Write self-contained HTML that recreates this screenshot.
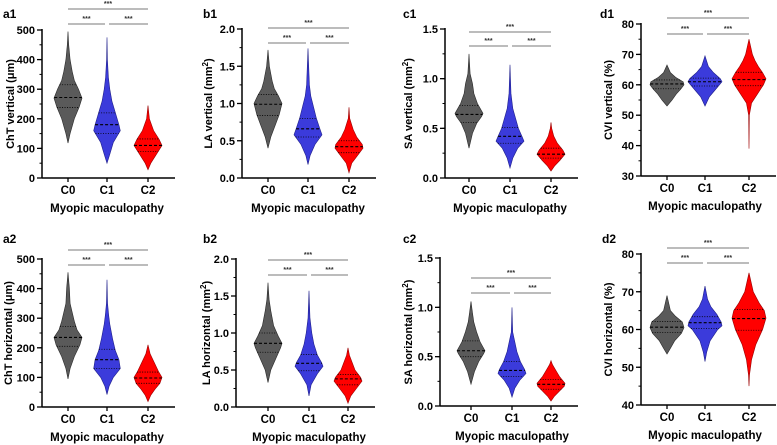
<!DOCTYPE html>
<html><head><meta charset="utf-8"><style>
html,body{margin:0;padding:0;background:#fff;}
svg{display:block;font-family:"Liberation Sans",Arial,sans-serif;font-weight:bold;}
</style></head><body>
<svg id="fig" width="777" height="445" viewBox="0 0 777 445" xmlns="http://www.w3.org/2000/svg"></svg>
<script>
const categories = ["C0","C1","C2"];
// ChT vertical
const a1_C0_v=[118,150,200,240,270,300,330,360,400,450,495], a1_C0_w=[0,.15,.45,.8,1,.75,.45,.3,.15,.05,0], a1_C0_q=[238,272,315];
const a1_C1_v=[50,80,120,160,180,220,260,300,340,400,475], a1_C1_w=[0,.2,.45,.95,.85,.6,.35,.2,.1,.03,0], a1_C1_q=[150,180,220];
const a1_C2_v=[28,50,80,110,130,160,200,245], a1_C2_w=[0,.2,.6,1,.8,.4,.1,0], a1_C2_q=[90,110,132];
// ChT horizontal
const a2_C0_v=[95,130,170,210,235,260,290,320,350,400,455], a2_C0_w=[0,.15,.45,.85,1,.65,.45,.3,.15,.1,0], a2_C0_q=[205,235,272];
const a2_C1_v=[42,70,100,130,160,190,230,280,310,350,430], a2_C1_w=[0,.15,.45,.95,.85,.6,.4,.2,.12,.04,0], a2_C1_q=[130,160,195];
const a2_C2_v=[18,40,60,80,100,120,150,180,210], a2_C2_w=[0,.2,.5,.85,1,.75,.45,.15,0], a2_C2_q=[80,98,118];
// LA vertical
const b1_C0_v=[.4,.55,.7,.85,1.0,1.1,1.2,1.3,1.5,1.72], b1_C0_w=[0,.2,.5,.8,1,.75,.45,.3,.1,0], b1_C0_q=[.84,.99,1.12];
const b1_C1_v=[.18,.3,.45,.58,.66,.8,.95,1.1,1.25,1.74], b1_C1_w=[0,.15,.5,1,.85,.6,.4,.2,.1,0], b1_C1_q=[.55,.66,.8];
const b1_C2_v=[.07,.2,.3,.4,.45,.55,.65,.8,.95], b1_C2_w=[0,.2,.6,1,.95,.55,.3,.05,0], b1_C2_q=[.34,.42,.5];
// LA horizontal
const b2_C0_v=[.33,.5,.65,.8,.86,.95,1.1,1.3,1.45,1.68], b2_C0_w=[0,.2,.55,.9,1,.75,.4,.2,.08,0], b2_C0_q=[.74,.86,1.0];
const b2_C1_v=[.15,.3,.45,.55,.6,.7,.85,1.0,1.2,1.57], b2_C1_w=[0,.15,.6,1,.9,.6,.35,.2,.07,0], b2_C1_q=[.49,.59,.71];
const b2_C2_v=[.05,.15,.25,.35,.4,.5,.6,.7,.8], b2_C2_w=[0,.2,.6,1,.9,.5,.3,.1,0], b2_C2_q=[.3,.38,.44];
// SA vertical
const c1_C0_v=[.3,.45,.55,.62,.65,.75,.85,.95,1.05,1.25], c1_C0_w=[0,.25,.55,.9,1,.6,.35,.25,.08,0], c1_C0_q=[.56,.64,.73];
const c1_C1_v=[.1,.2,.3,.37,.42,.5,.6,.7,.85,1.14], c1_C1_w=[0,.2,.55,1,.85,.6,.4,.2,.07,0], c1_C1_q=[.35,.42,.51];
const c1_C2_v=[.07,.12,.18,.24,.28,.35,.42,.5,.56], c1_C2_w=[0,.25,.65,1,.85,.45,.2,.05,0], c1_C2_q=[.2,.24,.3];
// SA horizontal
const c2_C0_v=[.22,.35,.45,.53,.56,.65,.75,.85,.95,1.06], c2_C0_w=[0,.25,.55,.9,1,.65,.4,.2,.1,0], c2_C0_q=[.5,.56,.66];
const c2_C1_v=[.09,.18,.26,.33,.37,.45,.55,.65,.75,1.0], c2_C1_w=[0,.2,.55,1,.9,.6,.35,.2,.05,0], c2_C1_q=[.3,.36,.45];
const c2_C2_v=[.05,.1,.15,.2,.23,.3,.36,.42,.46], c2_C2_w=[0,.25,.6,.95,1,.6,.35,.1,0], c2_C2_q=[.17,.22,.27];
// CVI vertical
const d1_C0_v=[53,55,57,58.5,60,61,62.5,64,66.5], d1_C0_w=[0,.3,.55,.8,1,.95,.5,.2,0], d1_C0_q=[58.7,60.3,61.6];
const d1_C1_v=[53,56,58,60,61,62,64,66,69.5], d1_C1_w=[0,.25,.55,.85,1,.9,.5,.2,0], d1_C1_q=[59.6,61,62.2];
const d1_C2_v=[39,50,54,57,60,62,64,66,68,70,75], d1_C2_w=[0,.02,.15,.5,.85,1,.8,.55,.35,.2,0], d1_C2_q=[59.7,61.7,64.1];
// CVI horizontal
const d2_C0_v=[53.5,55,57,59,60.5,62,63.5,65,69], d2_C0_w=[0,.2,.45,.85,1,.9,.5,.2,0], d2_C0_q=[59.2,60.6,62.1];
const d2_C1_v=[51.5,54,57,60,61,62,64,66,68,71.5], d2_C1_w=[0,.1,.3,.75,1,.95,.7,.35,.15,0], d2_C1_q=[60.3,61.8,63.4];
const d2_C2_v=[45,48,52,56,60,63,65,67,70,75], d2_C2_w=[0,.03,.15,.4,.8,1,.9,.6,.25,0], d2_C2_q=[59.8,62.9,65.3];

const yTicksA=[0,100,200,300,400,500], yTicksB=[0,0.5,1.0,1.5,2.0], yTicksC=[0,0.5,1.0,1.5], yTicksD1=[30,40,50,60,70,80], yTicksD2=[40,50,60,70,80];
const sigLabel="***";

const NS="http://www.w3.org/2000/svg";
const svg=document.getElementById('fig');
function mk(tag,attrs,parent){const e=document.createElementNS(NS,tag);for(const k in attrs)e.setAttribute(k,attrs[k]);(parent||svg).appendChild(e);return e;}

const fills=["#5a5a5a","#3b3bdb","#ff0000"], strokes=["#2a2a2a","#20208a","#9a0000"];
const panels=[
 {id:"a1",ax:42,top:30,bot:178,cats:[68,107,148],min:0,max:500,ticks:yTicksA,minor:50,dec:0,bars:[9,24],ytx:10,lx:3,ly:18,hw:14,title:["ChT vertical (μm)",""],data:[[a1_C0_v,a1_C0_w,a1_C0_q],[a1_C1_v,a1_C1_w,a1_C1_q],[a1_C2_v,a1_C2_w,a1_C2_q]]},
 {id:"b1",ax:242,top:29,bot:178,cats:[268,308,349],min:0,max:2,ticks:yTicksB,minor:.25,dec:1,bars:[28,43],ytx:208,lx:203,ly:18,hw:14,title:["LA vertical (mm","2",")"],data:[[b1_C0_v,b1_C0_w,b1_C0_q],[b1_C1_v,b1_C1_w,b1_C1_q],[b1_C2_v,b1_C2_w,b1_C2_q]]},
 {id:"c1",ax:445,top:29,bot:178,cats:[469,510,551],min:0,max:1.5,ticks:yTicksC,minor:.25,dec:1,bars:[32,46],ytx:408,lx:403,ly:18,hw:14,title:["SA vertical (mm","2",")"],data:[[c1_C0_v,c1_C0_w,c1_C0_q],[c1_C1_v,c1_C1_w,c1_C1_q],[c1_C2_v,c1_C2_w,c1_C2_q]]},
 {id:"d1",ax:641,top:24,bot:176,cats:[667,705,749],min:30,max:80,ticks:yTicksD1,minor:5,dec:0,bars:[18,34],ytx:608,lx:600,ly:18,hw:17,title:["CVI vertical (%)",""],data:[[d1_C0_v,d1_C0_w,d1_C0_q],[d1_C1_v,d1_C1_w,d1_C1_q],[d1_C2_v,d1_C2_w,d1_C2_q]]},
 {id:"a2",ax:42,top:259,bot:407,cats:[68,107,148],min:0,max:500,ticks:yTicksA,minor:50,dec:0,bars:[250,265],ytx:8,lx:3,ly:243,hw:14,title:["ChT horizontal (μm)",""],data:[[a2_C0_v,a2_C0_w,a2_C0_q],[a2_C1_v,a2_C1_w,a2_C1_q],[a2_C2_v,a2_C2_w,a2_C2_q]]},
 {id:"b2",ax:236,top:259,bot:407,cats:[268,309,348],min:0,max:2,ticks:yTicksB,minor:.25,dec:1,bars:[260,275],ytx:206,lx:203,ly:243,hw:14,title:["LA horizontal (mm","2",")"],data:[[b2_C0_v,b2_C0_w,b2_C0_q],[b2_C1_v,b2_C1_w,b2_C1_q],[b2_C2_v,b2_C2_w,b2_C2_q]]},
 {id:"c2",ax:440,top:258,bot:406,cats:[471,512,551],min:0,max:1.5,ticks:yTicksC,minor:.25,dec:1,bars:[278,293],ytx:408,lx:403,ly:243,hw:14,title:["SA horizontal (mm","2",")"],data:[[c2_C0_v,c2_C0_w,c2_C0_q],[c2_C1_v,c2_C1_w,c2_C1_q],[c2_C2_v,c2_C2_w,c2_C2_q]]},
 {id:"d2",ax:641,top:254,bot:405,cats:[667,705,749],min:40,max:80,ticks:yTicksD2,minor:5,dec:0,bars:[248,263],ytx:608,lx:602,ly:243,hw:17,title:["CVI horizontal (%)",""],data:[[d2_C0_v,d2_C0_w,d2_C0_q],[d2_C1_v,d2_C1_w,d2_C1_q],[d2_C2_v,d2_C2_w,d2_C2_q]]}
];

function interp(vs,ws,val){for(let i=0;i<vs.length-1;i++){if(val>=vs[i]&&val<=vs[i+1]){const t=(val-vs[i])/(vs[i+1]-vs[i]);return ws[i]+t*(ws[i+1]-ws[i]);}}return 0;}

panels.forEach(p=>{
  const g=mk('g',{});
  
  
  const y=v=>p.bot-(v-p.min)/(p.max-p.min)*(p.bot-p.top);
  const xEnd=p.cats[2]+27;
  const lab=mk('text',{x:p.lx,y:p.ly,'font-size':12},g);lab.textContent=p.id;
  
  
  for(let v=p.min;v<=p.max+1e-9;v+=p.minor){mk('line',{x1:p.ax-2.5,x2:p.ax,y1:y(v),y2:y(v),stroke:'#000','stroke-width':1},g);}
  p.ticks.forEach(t=>{
    mk('line',{x1:p.ax-5,x2:p.ax,y1:y(t),y2:y(t),stroke:'#000','stroke-width':1.3},g);
    const tx=mk('text',{x:p.ax-7,y:y(t)+4,'font-size':11,'text-anchor':'end'},g);tx.textContent=t.toFixed(p.dec);
    
    
  });
  const ya=mk('line',{x1:p.ax,x2:p.ax,y1:p.top-1,y2:p.bot,stroke:'#000','stroke-width':1.5},g);
  
  
  const xa=mk('line',{x1:p.ax,x2:xEnd,y1:p.bot,y2:p.bot,stroke:'#000','stroke-width':1.5},g);
  
  
  const yt=mk('text',{x:0,y:0,'font-size':11,'text-anchor':'middle',transform:`translate(${p.ytx+4},${(p.top+p.bot)/2}) rotate(-90)`},g);
  
  
  if(p.title.length===3){
    const s1=mk('tspan',{},yt);s1.textContent=p.title[0];
    const s2=mk('tspan',{'font-size':8,dy:-4},yt);s2.textContent=p.title[1];
    const s3=mk('tspan',{dy:4},yt);s3.textContent=p.title[2];
  } else yt.textContent=p.title[0];
  categories.forEach((c,i)=>{
    mk('line',{x1:p.cats[i],x2:p.cats[i],y1:p.bot,y2:p.bot+4,stroke:'#000','stroke-width':1.3},g);
    const ct=mk('text',{x:p.cats[i],y:p.bot+16,'font-size':11.5,'text-anchor':'middle'},g);ct.textContent=c;
    
    
  });
  const xt=mk('text',{x:p.cats[1],y:p.bot+34,'font-size':11.5,'text-anchor':'middle'},g);xt.textContent="Myopic maculopathy";
  
  
  p.data.forEach((d,i)=>{
    const [vs,ws,q]=d;const cx=p.cats[i];
    let right=vs.map((v,k)=>`${cx+ws[k]*p.hw},${y(v)}`);
    let left=vs.map((v,k)=>`${cx-ws[k]*p.hw},${y(v)}`).reverse();
    const vp=mk('polygon',{points:right.concat(left).join(' '),fill:fills[i],stroke:strokes[i],'stroke-width':0.6},g);
    
    
    q.forEach((qv,k)=>{
      const w=interp(vs,ws,qv)*p.hw;
      const ql=mk('line',{x1:cx-w,x2:cx+w,y1:y(qv),y2:y(qv),stroke:'#000','stroke-width':k===1?1.1:0.8,'stroke-dasharray':k===1?'3,2':'1,1.5'},g);
      
      
    });
  });
  const bars=[[p.cats[0],p.cats[2],p.bars[0]],[p.cats[0],p.cats[1]-2,p.bars[1]],[p.cats[1]+2,p.cats[2],p.bars[1]]];
  bars.forEach(b=>{
    const bl=mk('line',{x1:b[0],x2:b[1],y1:b[2],y2:b[2],stroke:'#7a7a7a','stroke-width':1},g);
    
    
    const st=mk('text',{x:(b[0]+b[1])/2,y:b[2]-3,'font-size':7,'text-anchor':'middle',fill:'#333'},g);st.textContent=sigLabel;
    
    
  });
});
</script>
</body></html>
